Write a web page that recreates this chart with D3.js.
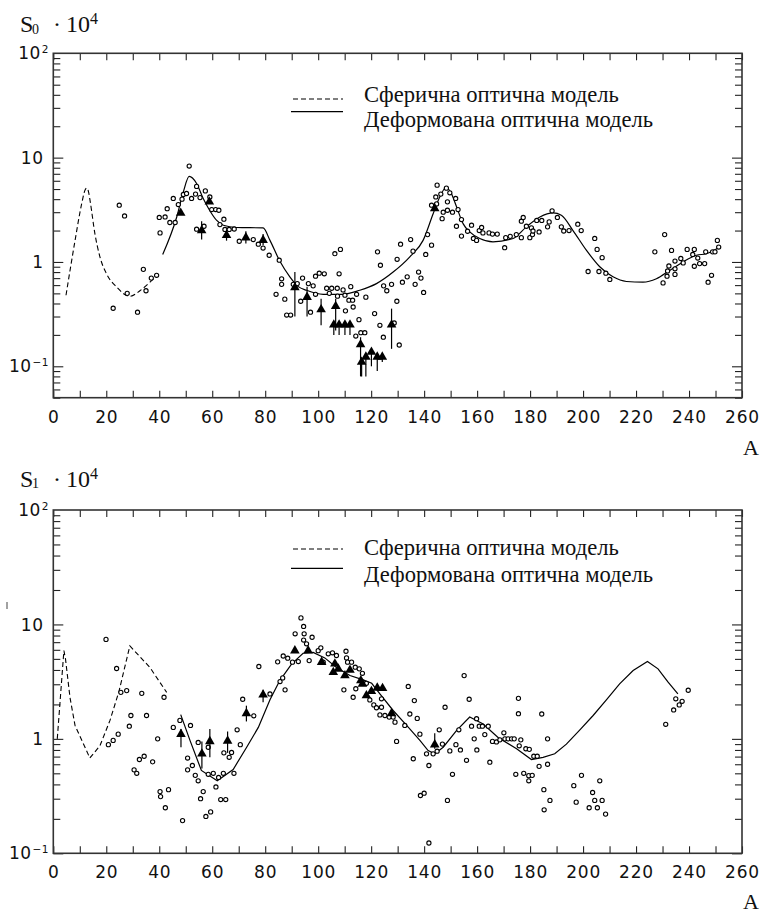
<!DOCTYPE html>
<html><head><meta charset="utf-8">
<script src="https://cdn.jsdelivr.net/npm/d3@7"></script>
<style>
body{margin:0;background:#fff} svg{display:block}
.serif{font-family:"Liberation Serif","DejaVu Serif",serif;}
.tick text, .ylab{font-family:"DejaVu Sans",sans-serif;}
</style>
</head><body>
<svg id="c" width="761" height="915"></svg>
<script>
// ---------- DATA ----------
const xTickValues = d3.range(0, 261, 10);
const xLabelValues = d3.range(0, 261, 20);
const yLabelValues = [100, 10, 1, 0.1];
const yLabelBase = ["10", "10", "1", "10"];
const yLabelSup = ["2", "", "", "\u22121"];
const legendLabels = ["Сферична оптична модель", "Деформована оптична модель"];
const xAxisTitle = "A";

// S0 panel
const s0Spherical = [[4.8,0.48],[8.2,1.6],[10.7,3.6],[12.0,4.9],[12.6,5.1],[13.3,4.7],[14.0,3.7],[15.7,1.87],[17.6,1.12],[20.1,0.77],[23.9,0.575],[28.9,0.468],[32.7,0.53],[36.5,0.64],[39,0.745]];
const s0Deformed = [[41.3,1.18],[46.6,2.7],[49.1,4.7],[51.3,6.6],[54.1,5.65],[56.6,4.05],[59.1,3.1],[61.7,2.5],[64.2,2.25],[69.2,2.14],[79.2,2.12],[81.8,1.61],[85.5,1.02],[89.3,0.72],[92.5,0.58],[95.6,0.535],[101.9,0.49],[109.4,0.49],[115.7,0.535],[122,0.62],[128.3,0.8],[134.6,1.12],[139.6,1.61],[143.4,2.9],[145.9,4.2],[148.4,5.2],[150.3,4.5],[152.2,3.4],[154.7,2.33],[157.2,1.94],[161,1.68],[166,1.56],[173.6,1.68],[178.6,2.17],[183.7,2.7],[188.7,2.95],[191.8,2.8],[196.2,2.0],[201.3,1.29],[206.3,0.9],[211.3,0.72],[216.4,0.65],[222.6,0.64],[227.7,0.69],[232.7,0.83],[237.7,1.0],[242.8,1.16],[246.6,1.2],[251.6,1.39]];
const s0Circles = [[22.6,0.36],[24.9,3.5],[26.9,2.76],[27.9,0.50],[31.8,0.33],[34,0.85],[35,0.53],[37,0.70],[39,0.745],
[40,2.67],[40.3,1.9],[42.2,2.7],[43,3.24],[44,2.39],[45.3,4.06],[46,2.39],[47.2,3.55],[48.6,4.0],[49.1,4.43],[50.3,4.53],[51.3,8.3],[52.2,4.06],[53.7,4.47],[54.1,5.3],[54.1,2.06],[55.4,4.14],[56.9,2.2],[57.4,4.8],[59.1,4.2],[59.8,3.18],[61.3,3.18],[62.5,3.13],[62.9,2.28],[64.4,2.57],[64.8,2.05],[66.4,2.05],[68.3,2.07],[70.2,1.58],[75.5,1.64],[77.4,1.48],[79.2,1.36],[81.5,1.16],[85.3,1.04],[84.1,0.49],[86.2,0.69],[86.2,0.61],[87.4,0.44],[88.1,0.31],[89.6,0.31],[90.6,0.61],[92.1,0.62],[94.1,0.70],[93.4,0.42],[96.3,0.62],[98.1,0.59],[97.1,0.33],[99,0.49],[99,0.73],[100.4,0.78],[102.3,0.77],[103.2,0.56],[105.1,0.56],[107.2,0.56],[106.3,1.2],[108.4,1.32],[107.9,0.77],[104.2,0.50],[107.3,0.47],[109.4,0.54],[110.1,0.48],[111.6,0.43],[113,0.43],[112.3,0.58],[110.3,0.34],[113.2,0.37],[114.5,0.49],[115.4,0.28],[114.2,0.195],[116.1,0.21],[117.6,0.21],[118,0.46],[121.3,0.32],[122.4,1.25],[123.5,0.93],[123.3,0.247],[124.7,0.59],[124.6,0.19],[125.9,0.53],[127.7,0.61],[128.7,0.26],[129.7,0.42],[129.8,1.06],[130.6,0.16],[131.1,1.48],[131.8,0.64],[133.6,0.72],[134.9,1.64],[135.8,1.27],[136.6,0.61],[137.9,0.80],[138.8,0.70],[139.8,0.51],[140.6,1.18],[141.3,1.83],[142.8,1.45],[142.8,3.5],[144.4,4.2],[144.7,3.6],[144.9,5.45],[146.3,4.47],[146.8,2.6],[147.2,3.0],[148.4,5.1],[149.7,4.6],[148.8,3.77],[148.8,3.13],[150.7,3.0],[151.9,4.06],[152.8,3.18],[154.1,2.55],[152.2,2.2],[154.1,1.77],[156.4,1.97],[157.9,2.25],[158.6,1.68],[159.8,1.61],[160.8,2.0],[161.7,2.14],[162.2,1.9],[164.5,1.9],[165.8,1.85],[167.6,1.85],[170.4,1.37],[170.8,1.71],[172.5,1.76],[174.8,1.83],[176.7,1.71],[176.7,2.46],[177.4,2.67],[178.6,2.2],[179.9,1.71],[180.9,1.83],[180.5,2.12],[181.1,1.98],[182.5,2.5],[184.4,2.5],[183.4,1.94],[186.6,2.17],[187.2,2.42],[188.3,3.09],[190.3,2.67],[191.8,2.17],[192.7,1.98],[194.7,2.0],[198,2.3],[199.3,2.0],[201.9,0.81],[204.4,1.68],[205.3,1.32],[207.2,1.1],[206,0.81],[208.6,0.78],[210.1,0.68],[227.1,1.25],[230.2,0.63],[230.8,1.83],[231.7,0.73],[231.9,0.82],[233.4,1.29],[232.4,0.915],[234.7,1.02],[234.7,0.86],[234.7,0.76],[236.9,1.08],[237.8,0.98],[239.3,1.32],[241.4,1.18],[242,1.32],[242,0.91],[243.3,1.09],[244,0.965],[245.9,0.965],[246.3,1.25],[247.2,0.64],[248.5,0.745],[248.9,1.25],[249.8,1.25],[250.7,1.61],[251.2,1.39]];
// [A, value, errLow, errHigh]
const s0Triangles = [[48.1,2.95,2.95,2.95],[56,2.0,1.64,2.45],[58.9,3.77,3.77,3.77],[65.4,1.8,1.6,2.05],[72.7,1.71,1.5,1.97],[79.2,1.62,1.45,1.85],[91.2,0.57,0.30,0.80],[95.8,0.46,0.30,0.58],[101.1,0.35,0.247,0.445],[106.6,0.376,0.22,0.445],[105.9,0.25,0.2,0.25],[107.9,0.25,0.2,0.25],[110.1,0.25,0.2,0.25],[112,0.25,0.2,0.25],[116,0.162,0.08,0.19],[116.4,0.11,0.08,0.11],[118,0.123,0.08,0.123],[120.1,0.137,0.1,0.137],[122.3,0.123,0.09,0.123],[124.2,0.123,0.11,0.123],[127.7,0.25,0.147,0.357],[144,3.25,3.25,3.25]];

// S1 panel
const s1Spherical = [[1.5,1.0],[4.0,5.9],[4.6,5.0],[6.3,2.3],[8.2,1.31],[13.8,0.68],[17.6,0.87],[21.4,1.45],[24.8,2.6],[28.9,6.5],[36.5,4.2],[42.8,2.55]];
const s1Deformed = [[48.1,1.63],[51.6,0.97],[55.9,0.53],[61.9,0.43],[67.9,0.54],[73,0.845],[77.4,1.26],[81.8,2.2],[85.5,3.23],[90,4.53],[94.3,5.6],[98.1,5.7],[102.5,5.1],[106.9,4.2],[112,3.58],[117,3.28],[120.2,3.06],[123.3,2.47],[128.3,1.77],[133.4,1.31],[138.4,0.97],[141.5,0.79],[144,0.74],[147.2,0.845],[152.2,1.18],[157.2,1.55],[162.3,1.35],[167.9,1.03],[174.9,0.82],[180.5,0.66],[184.9,0.69],[189.3,0.74],[193.7,0.90],[198.8,1.2],[203.8,1.6],[208.8,2.19],[213.8,3.02],[218.9,3.95],[224.3,4.74],[228.3,4.09],[232.1,3.13],[235.8,2.47]];
const s1Circles = [[19.9,7.4],[23.9,4.12],[25.5,2.55],[27.7,2.64],[29.3,1.6],[28.7,1.29],[24.5,1.1],[22.6,0.97],[20.8,0.89],[33.4,2.5],[35.2,1.6],[32.5,0.66],[34.3,0.705],[30.5,0.536],[31.5,0.50],[37.5,0.63],[39.4,1.0],[41.8,2.31],[40.3,0.346],[40.5,0.313],[43.5,0.36],[42.3,0.25],[45.3,1.26],[47.8,1.45],[51.8,1.31],[48.8,0.193],[50.7,0.68],[50.7,0.536],[52.5,0.585],[54.7,0.93],[53.6,0.48],[54.7,0.43],[56.6,0.346],[55.6,0.30],[58.5,0.49],[60.4,0.50],[58.5,0.845],[57.6,0.21],[59.4,0.23],[61.4,0.38],[62.4,0.46],[64.2,0.50],[63.2,0.295],[65.1,0.295],[64.4,0.755],[67.3,0.76],[66.4,0.69],[68.2,0.50],[69.4,1.2],[70.6,0.89],[71.5,2.22],[75.7,1.59],[77.6,4.29],[81.8,2.47],[84.7,4.71],[86.8,5.3],[88.5,5.07],[85.6,3.17],[86.6,3.41],[87.5,2.68],[90.3,4.68],[92.5,4.74],[91.3,8.28],[93.5,11.4],[94.5,9.6],[94.7,8.28],[94.5,7.3],[95.6,6.77],[97.7,7.73],[96.6,4.83],[100,5.9],[101,6.24],[101.9,4.68],[103.8,5.54],[105.4,5.65],[106.9,5.35],[110.5,5.83],[110.7,5.1],[111.1,4.68],[112.6,4.68],[114,4.23],[115.5,4.09],[116.7,3.74],[109.7,2.68],[113.2,2.31],[114.2,2.74],[118.2,3.06],[119.5,2.19],[121,1.98],[122,1.87],[123.9,2.24],[123.9,1.89],[123.3,1.62],[125.2,1.6],[126.8,1.55],[128.3,1.55],[129,1.4],[129.6,0.95],[132.7,1.31],[134,2.87],[134.6,1.65],[135.9,0.67],[136.3,2.16],[137.4,1.51],[138.4,1.1],[138.6,0.32],[140,0.335],[140.9,0.74],[141.8,0.585],[141.8,0.123],[143.4,0.74],[144.9,0.78],[145.7,1.2],[146.9,0.90],[147.9,1.89],[148.8,0.29],[149.7,0.785],[150.7,0.49],[152,0.89],[153.1,1.2],[153.7,0.80],[155.1,3.57],[156,0.65],[157,2.22],[157.9,1.29],[158.9,1.0],[159.8,1.5],[159.9,0.80],[160.8,1.29],[162,1.29],[164.2,1.29],[162.9,1.09],[164.8,0.625],[165.8,0.95],[167.3,0.94],[168.6,0.98],[170.1,1.13],[170.5,1.0],[171.7,1.0],[173,1.0],[174,1.0],[174.6,0.49],[175.6,2.26],[175.6,1.66],[175.9,0.87],[176.5,0.98],[177.6,0.50],[178.4,0.82],[179.7,0.81],[179.5,0.43],[179.5,0.477],[180.8,0.48],[181.4,0.705],[182.7,0.705],[183.4,0.575],[184.4,1.65],[185.2,0.36],[185.3,0.24],[186.6,1.0],[186.6,0.60],[187.5,0.29],[196.5,0.39],[197.4,0.28],[199.4,0.48],[202.3,0.25],[203.6,0.34],[204.4,0.29],[207.2,0.29],[205.4,0.25],[206.3,0.43],[208.5,0.22],[231.2,1.34],[234.2,1.79],[235,2.24],[236.3,1.98],[237.4,2.13],[239.7,2.66]];
const s1Triangles = [[48.2,1.1,0.845,1.22],[56.1,0.74,0.55,0.95],[59.1,0.95,0.69,1.22],[65.8,0.96,0.755,1.16],[72.9,1.67,1.42,1.95],[79.2,2.43,2.09,2.68],[91.2,5.9,5.9,5.9],[96.2,5.9,5.9,5.9],[101.3,4.68,4.68,4.68],[106.3,4.53,4.53,4.53],[105.7,3.82,3.82,3.82],[107.6,4.09,4.09,4.09],[110.1,3.58,3.58,3.58],[112,4.0,4.0,4.0],[116.1,3.23,3.23,3.23],[116.7,3.02,3.02,3.02],[118.2,2.39,2.39,2.39],[120.1,2.61,2.61,2.61],[122.3,2.79,2.79,2.79],[124.3,2.77,2.77,2.77],[127.7,1.67,1.67,1.67],[144,0.89,0.82,1.12]];

// ---------- DRAW ----------
const svg = d3.select("#c");
const x = d3.scaleLinear().domain([0, 260]).range([53.3, 742]);

function minorTicks(lo, hi) {
  const out = [];
  for (let e = Math.floor(Math.log10(lo)); e <= Math.ceil(Math.log10(hi)); e++) {
    for (let m = 2; m <= 9; m++) { const v = m * Math.pow(10, e); if (v >= lo * 0.999 && v <= hi * 1.001) out.push(v); }
  }
  return out;
}

function panel(cfg) {
  const y = d3.scaleLog().domain(cfg.yDomain).range([cfg.bottom, cfg.top]);
  const g = svg.append("g");
  const L = x.range()[0], R = x.range()[1];

  const ax = d3.axisBottom(x).tickValues(xTickValues).tickSize(-7).tickPadding(13)
    .tickFormat(d => xLabelValues.includes(d) ? d : "");
  const gb = g.append("g").attr("transform", `translate(0,${cfg.bottom})`).call(ax);
  const gt = g.append("g").attr("transform", `translate(0,${cfg.top})`)
    .call(d3.axisTop(x).tickValues(xTickValues).tickSize(-7).tickFormat(""));
  const majors = yLabelValues.filter(v => v >= cfg.yDomain[0] && v < cfg.yDomain[1]);
  const minors = minorTicks(cfg.yDomain[0], cfg.yDomain[1]);
  const gl1 = g.append("g").attr("transform", `translate(${L},0)`).call(d3.axisLeft(y).tickValues(majors).tickSize(-10).tickFormat(""));
  const gl2 = g.append("g").attr("transform", `translate(${L},0)`).call(d3.axisLeft(y).tickValues(minors).tickSize(-7).tickFormat(""));
  const gr1 = g.append("g").attr("transform", `translate(${R},0)`).call(d3.axisRight(y).tickValues(majors).tickSize(-10).tickFormat(""));
  const gr2 = g.append("g").attr("transform", `translate(${R},0)`).call(d3.axisRight(y).tickValues(minors).tickSize(-7).tickFormat(""));
  [gb, gt, gl1, gl2, gr1, gr2].forEach(a => {
    a.select(".domain").remove();
    a.selectAll("line").attr("stroke", "#222").attr("stroke-width", 1.1);
  });
  gb.attr("font-family", null).attr("font-size", null);
  gb.selectAll("text").style("font-family", '"DejaVu Sans", sans-serif').style("font-size", "17px")
    .attr("letter-spacing", 0.8).attr("fill", "#111");

  g.append("rect").attr("x", L).attr("y", cfg.top).attr("width", R - L).attr("height", cfg.bottom - cfg.top)
    .attr("fill", "none").attr("stroke", "#333").attr("stroke-width", 1.6);

  yLabelValues.forEach((v, i) => {
    const hasSup = yLabelSup[i] !== "";
    const t = g.append("text").attr("class", "ylab").attr("y", y(v)).attr("dy", "0.36em")
      .style("font-size", "17px").attr("fill", "#111").attr("letter-spacing", 0.5)
      .attr("text-anchor", "end").attr("x", hasSup ? 49 : 43.5);
    t.append("tspan").text(yLabelBase[i]);
    if (hasSup) t.append("tspan").style("font-size", "10.5px").attr("dy", "-0.6em").attr("dx", 1).text(yLabelSup[i]);
  });

  const line = d3.line().x(d => x(d[0])).y(d => y(d[1])).curve(cfg.curve);
  g.append("path").datum(cfg.spherical).attr("d", line).attr("fill", "none").attr("stroke", "#000")
    .attr("stroke-width", 1.1).attr("stroke-dasharray", "5,3");
  g.append("path").datum(cfg.deformed).attr("d", line).attr("fill", "none").attr("stroke", "#000")
    .attr("stroke-width", 1.2);

  g.append("g").selectAll("circle").data(cfg.circles).join("circle")
    .attr("cx", d => x(d[0])).attr("cy", d => y(d[1])).attr("r", 2.1)
    .attr("fill", "#fff").attr("stroke", "#000").attr("stroke-width", 1.1);

  g.append("g").selectAll("line").data(cfg.triangles.filter(d => d[2] !== d[3])).join("line")
    .attr("x1", d => x(d[0])).attr("x2", d => x(d[0]))
    .attr("y1", d => y(d[2])).attr("y2", d => y(d[3]))
    .attr("stroke", "#000").attr("stroke-width", 1.2);
  const tri = d3.symbol().type(d3.symbolTriangle).size(40);
  g.append("g").selectAll("path").data(cfg.triangles).join("path")
    .attr("d", tri).attr("transform", d => `translate(${x(d[0])},${y(d[1])})`).attr("fill", "#000");

  g.append("line").attr("x1", 293).attr("x2", 343).attr("y1", cfg.legY[0]).attr("y2", cfg.legY[0])
    .attr("stroke", "#000").attr("stroke-width", 1.1).attr("stroke-dasharray", "5,3");
  g.append("line").attr("x1", 291).attr("x2", 343).attr("y1", cfg.legY[1]).attr("y2", cfg.legY[1])
    .attr("stroke", "#000").attr("stroke-width", 1.2);
  legendLabels.forEach((s, i) => {
    g.append("text").attr("class", "serif").attr("x", 364).attr("y", cfg.legText[i]).style("font-size", "22.6px")
      .attr("fill", "#111").text(s);
  });

  const tt = g.append("text").attr("class", "serif").attr("x", 20).attr("y", cfg.titleY).style("font-size", "24px").attr("fill", "#111");
  tt.append("tspan").text("S");
  tt.append("tspan").attr("x", 32).attr("dy", 1.5).style("font-size", "14px").text(cfg.sub);
  tt.append("tspan").attr("x", 53).attr("dy", -1.5).text("·");
  tt.append("tspan").attr("x", 66).text("10");
  tt.append("tspan").attr("x", 90).attr("dy", -8).style("font-size", "16px").text("4");

  g.append("text").attr("class", "serif").attr("x", 743).attr("y", cfg.aY).style("font-size", "22px")
    .attr("fill", "#111").text(xAxisTitle);
  return g;
}

panel({ top: 53.3, bottom: 397.7, yDomain: [0.05, 100], curve: d3.curveMonotoneX,
  spherical: s0Spherical, deformed: s0Deformed, circles: s0Circles, triangles: s0Triangles,
  legY: [99, 111.7], legText: [101.5, 126.5], titleY: 32.3, sub: "0", aY: 455 });
const p2 = panel({ top: 510, bottom: 853.3, yDomain: [0.1, 100], curve: d3.curveLinear,
  spherical: s1Spherical, deformed: s1Deformed, circles: s1Circles, triangles: s1Triangles,
  legY: [549, 568.3], legText: [555, 581.5], titleY: 486.7, sub: "1", aY: 909 });
p2.append("line").attr("x1", 7).attr("x2", 7).attr("y1", 602).attr("y2", 609).attr("stroke", "#444").attr("stroke-width", 1);
</script>
</body></html>
